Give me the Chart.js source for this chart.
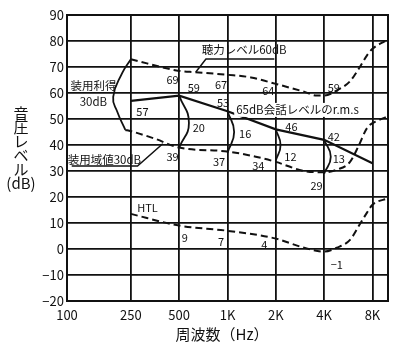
<!DOCTYPE html>
<html>
<head>
<meta charset="utf-8">
<script src="https://cdn.jsdelivr.net/npm/chart.js@4/dist/chart.umd.min.js"></script>
<style>
html,body{margin:0;padding:0;background:#fff;}
#wrap{width:400px;height:349px;}
</style>
</head>
<body>
<div id="wrap"><canvas id="c" width="400" height="349"></canvas></div>
<script>
// ---- tick labels ----
const freqTicks = [100, 250, 500, 1000, 2000, 4000, 8000];
const freqTickLabels = ['100', '250', '500', '1K', '2K', '4K', '8K'];

// ---- series (frequency in Hz, level in dB) ----
const htlFreq = [250, 500, 1000, 2000, 3000, 4000, 4800, 5800, 6600, 7400, 8000, 10000];
const htlDb   = [13.5, 9, 7, 4, 0.5, -1, 0.5, 3.5, 9, 14, 17, 19.5];

const level60Freq = [250, 500, 630, 1000, 1400, 2000, 3000, 3600, 4000, 4800, 5800, 6600, 7400, 8000, 10000];
const level60Db   = [73, 68.5, 68, 67, 66, 63.5, 60.5, 59, 59, 61, 64.5, 69.5, 74.5, 77, 80.5];

const aidedThrFreq = [231, 250, 350, 500, 1000, 1500, 2000, 3000, 4000, 4800, 5800, 6600, 7400, 8700, 10000];
const aidedThrDb   = [45.8, 45.3, 42.5, 39, 37.5, 35.5, 33.5, 30, 29.5, 30.5, 33.5, 40, 46.5, 49.5, 51];

const speechFreq = [250, 500, 1000, 2000, 4000, 8000];
const speechDb   = [57, 59, 53, 46, 42, 33];

// gain loop and difference brackets
const gainLoopFreq = [250, 221, 194, 206, 231];
const gainLoopDb   = [73, 67.7, 58.5, 52.7, 45.8];
const arc500Freq = [500, 575, 500];   const arc500Db = [59, 48.5, 39];
const arc1kFreq  = [1000, 1100, 1000]; const arc1kDb  = [53, 45, 37];
const arc2kFreq  = [2000, 2140, 2000]; const arc2kDb  = [46, 40, 34];
const arc4kFreq  = [4000, 4400, 4000]; const arc4kDb  = [42, 35.5, 29];

// leader lines
const leader60Freq  = [1958, 734, 635];  const leader60Db  = [73.1, 73.1, 68.1];
const leaderThrFreq = [107, 275, 395];   const leaderThrDb = [31.9, 31.9, 40.5];

// value labels (text, freq, dB)
const valueLabelText = ['69','59','67','64','59','57','53','46','42','20','16','12','13','39','37','34','29','9','7','4','−1'];
const valueLabelFreq = [455,617,911,1796,4592,295,938,2502,4592,663,1288,2467,4935,455,885,1555,3590,542,911,1694,4796];
const valueLabelDb   = [65,61.9,63.1,60.8,61.9,52.7,56.2,46.9,43.1,46.5,44.2,35.4,34.6,35.4,33.5,31.9,24.2,4.2,2.7,1.5,-6.2];

// text notes (text, freq, dB)
const noteText = ['聴力レベル60dB', '装用利得', '30dB', '65dB会話レベルのr.m.s', '装用域値30dB', 'HTL'];
const noteFreq = [1270, 146, 146, 2730, 171, 317];
const noteDb   = [76.5, 62.7, 56.5, 53.5, 34.2, 15.8];

const yTitleChars = ['音', '圧', 'レ', 'ベ', 'ル', '(dB)'];
const xTitle = '周波数（Hz）';

function pts(fs, ds) { return fs.map((f, i) => ({ x: f, y: ds[i] })); }

const FONT = "'Noto Sans CJK JP', 'Noto Sans', sans-serif";

function ds(fs, d, opts) {
  return Object.assign({
    data: pts(fs, d), borderColor: '#111', borderWidth: 2, pointRadius: 0,
    fill: false, tension: 0
  }, opts || {});
}

const datasets = [
  ds(htlFreq, htlDb, { borderDash: [7, 4], cubicInterpolationMode: 'monotone' }),
  ds(level60Freq, level60Db, { borderDash: [7, 4], cubicInterpolationMode: 'monotone' }),
  ds(aidedThrFreq, aidedThrDb, { borderDash: [7, 4], cubicInterpolationMode: 'monotone' }),
  ds(speechFreq, speechDb, { borderWidth: 2.2 }),
  ds(gainLoopFreq, gainLoopDb, { tension: 0.5, borderWidth: 1.8 }),
  ds(arc500Freq, arc500Db, { tension: 0.5, borderWidth: 1.8 }),
  ds(arc1kFreq, arc1kDb, { tension: 0.5, borderWidth: 1.8 }),
  ds(arc2kFreq, arc2kDb, { tension: 0.5, borderWidth: 1.8 }),
  ds(arc4kFreq, arc4kDb, { tension: 0.5, borderWidth: 1.8 }),
  ds(leader60Freq, leader60Db, { borderWidth: 1.5 }),
  ds(leaderThrFreq, leaderThrDb, { borderWidth: 1.5 })
];

const decor = {
  id: 'decor',
  beforeDraw(chart) {
    const c = chart.ctx;
    c.save(); c.fillStyle = '#fff'; c.fillRect(0, 0, chart.width, chart.height); c.restore();
  },
  beforeDatasetsDraw(chart) {
    const c = chart.ctx, a = chart.chartArea;
    c.save();
    c.strokeStyle = '#111'; c.lineWidth = 2;
    c.strokeRect(a.left, a.top, a.right - a.left, a.bottom - a.top);
    c.restore();
  },
  afterDatasetsDraw(chart) {
    const c = chart.ctx, xs = chart.scales.x, ys = chart.scales.y;
    c.save();
    c.fillStyle = '#111';
    c.textAlign = 'center'; c.textBaseline = 'middle';
    c.font = '11px ' + FONT;
    valueLabelText.forEach((t, i) => {
      c.fillText(t, xs.getPixelForValue(valueLabelFreq[i]), ys.getPixelForValue(valueLabelDb[i]));
    });
    noteText.forEach((t, i) => {
      const px = xs.getPixelForValue(noteFreq[i]), py = ys.getPixelForValue(noteDb[i]);
      c.font = (t === 'HTL' ? '11px ' : '11.5px ') + FONT;
      if (t.indexOf('会話') >= 0) {
        const w = c.measureText(t).width;
        c.fillStyle = '#fff';
        c.fillRect(px - w / 2 - 2, py - 7, w + 4, 14);
        c.fillStyle = '#111';
      }
      c.fillText(t, px, py);
    });
    c.restore();
  },
  afterDraw(chart) {
    const c = chart.ctx;
    c.save();
    c.fillStyle = '#111';
    c.textAlign = 'center'; c.textBaseline = 'middle';
    c.font = '15px ' + FONT;
    yTitleChars.forEach((t, i) => {
      c.fillText(t, 21, 113 + i * 14);
    });
    c.font = '15px ' + FONT;
    c.fillText(xTitle, 222, 334);
    c.restore();
  }
};

new Chart(document.getElementById('c'), {
  type: 'line',
  data: { datasets },
  options: {
    responsive: false, animation: false, devicePixelRatio: 1,
    layout: { padding: { top: 15, right: 12, left: 0, bottom: 0 } },
    plugins: { legend: { display: false }, tooltip: { enabled: false }, title: { display: false } },
    scales: {
      x: {
        type: 'logarithmic', min: 100, max: 10000,
        afterBuildTicks(s) { s.ticks = freqTicks.map(v => ({ value: v })); },
        afterFit(s) { s.height = 48; },
        ticks: {
          autoSkip: false, maxRotation: 0, padding: 6, color: '#111',
          font: { family: FONT, size: 13 },
          callback(v) { const i = freqTicks.indexOf(v); return i >= 0 ? freqTickLabels[i] : ''; }
        },
        grid: { color: '#111', lineWidth: 1.8, drawTicks: false },
        border: { display: true, color: '#111', width: 2 }
      },
      y: {
        type: 'linear', min: -20, max: 90,
        afterFit(s) { s.width = 67; },
        ticks: {
          stepSize: 10, padding: 3, color: '#111',
          font: { family: FONT, size: 13 },
          callback(v) { return v < 0 ? '−' + Math.abs(v) : String(v); }
        },
        grid: { color: '#111', lineWidth: 1.8, drawTicks: false },
        border: { display: true, color: '#111', width: 2 }
      }
    }
  },
  plugins: [decor]
});
</script>
</body>
</html>
